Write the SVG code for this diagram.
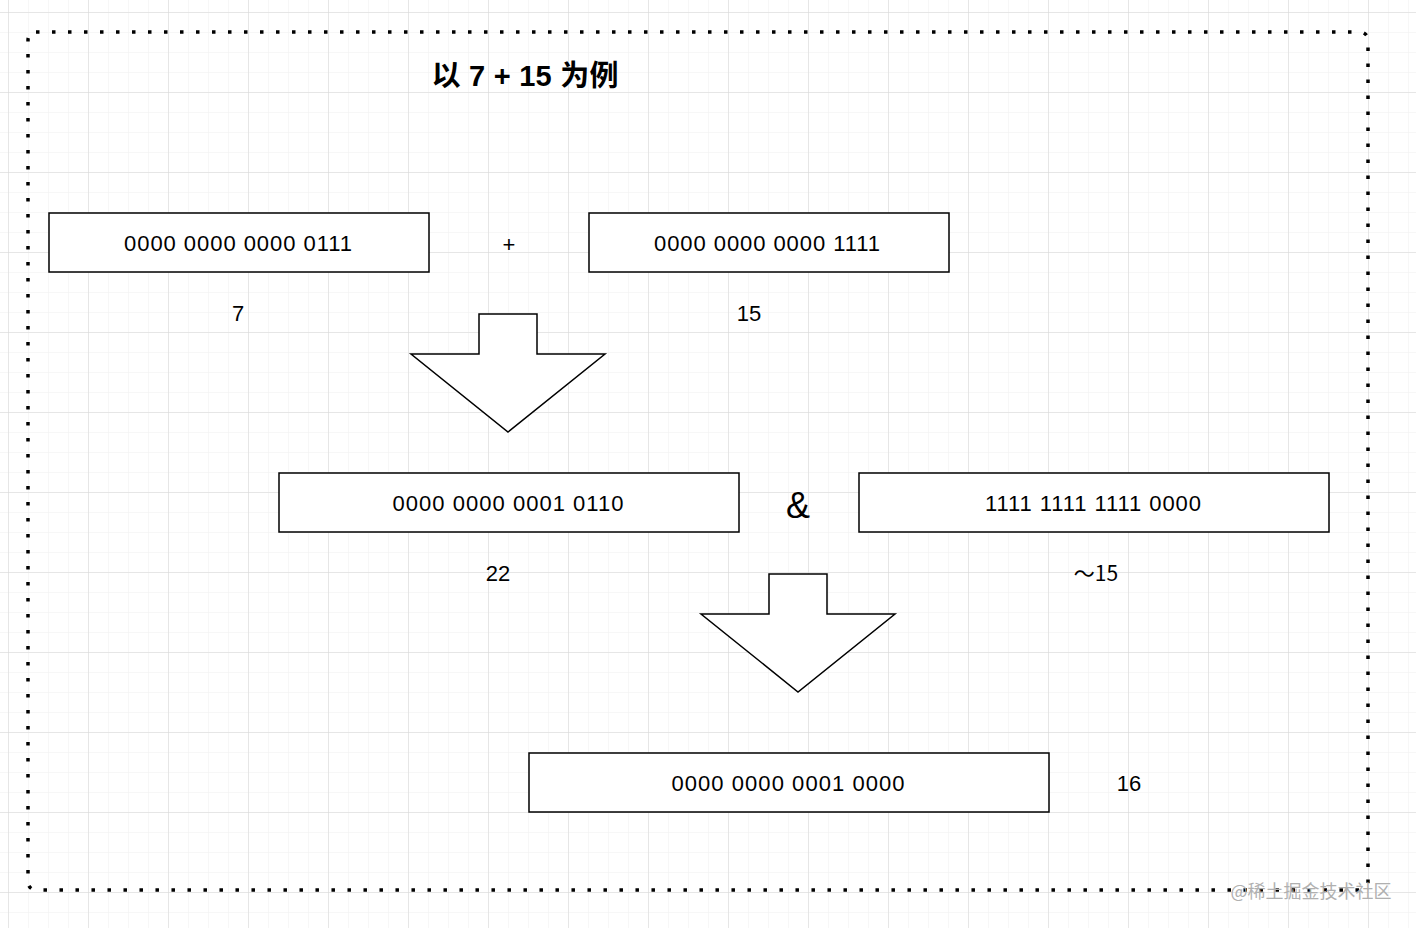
<svg xmlns="http://www.w3.org/2000/svg" width="1416" height="928" viewBox="0 0 1416 928">
<defs>
<pattern id="minor" width="20" height="20" patternUnits="userSpaceOnUse" x="8" y="12"><path d="M0 0H20M0 0V20" stroke="#f0f0f0" stroke-width="1" fill="none"/></pattern>
<pattern id="major" width="80" height="80" patternUnits="userSpaceOnUse" x="8" y="12"><path d="M0 0H80M0 0V80" stroke="#d6d6d6" stroke-width="1" fill="none"/></pattern>
</defs>
<style>
.box{fill:#fff;stroke:#000;stroke-width:1.5}
.t{font-family:"Liberation Sans",Arial,sans-serif;font-size:22px;fill:#000;text-anchor:middle}
.arr{fill:#fff;stroke:#000;stroke-width:1.5}
</style>
<rect width="1416" height="928" fill="#fff"/>
<rect width="1416" height="928" fill="url(#minor)"/>
<rect width="1416" height="928" fill="url(#major)"/>
<rect x="28" y="32" width="1340" height="858" rx="8" fill="none" stroke="#000" stroke-width="3.5" stroke-dasharray="3.5 12.5"/>
<text x="525" y="86" font-family="'Liberation Sans','Noto Sans CJK SC',sans-serif" font-size="29" font-weight="bold" text-anchor="middle" textLength="187">以 7 + 15 为例</text>
<g id="n1"><rect class="box" x="49" y="213" width="380" height="59"/><text class="t" x="238" y="251" textLength="228">0000 0000 0000 0111</text></g>
<g id="n2"><rect class="box" x="589" y="213" width="360" height="59"/><text class="t" x="767" y="251" textLength="226">0000 0000 0000 1111</text></g>
<g id="n3"><rect class="box" x="279" y="473" width="460" height="59"/><text class="t" x="508" y="511" textLength="231">0000 0000 0001 0110</text></g>
<g id="n4"><rect class="box" x="859" y="473" width="470" height="59"/><text class="t" x="1093" y="511" textLength="216">1111 1111 1111 0000</text></g>
<g id="n5"><rect class="box" x="529" y="753" width="520" height="59"/><text class="t" x="788" y="791" textLength="233">0000 0000 0001 0000</text></g>
<g id="labels">
<text class="t" x="509" y="252">+</text>
<text class="t" x="238" y="321">7</text>
<text class="t" x="749" y="321">15</text>
<text class="t" x="798" y="518" style="font-size:36px">&amp;</text>
<text class="t" x="498" y="581">22</text>
<text class="t" x="1096" y="581" style="font-family:'Noto Sans CJK SC','Liberation Sans',sans-serif;font-size:21px">～15</text>
<text class="t" x="1129" y="791">16</text>
</g>
<g id="connectors">
<path class="arr" d="M479 314H537V354H605L508 432L411 354H479Z"/>
<path class="arr" d="M769 574H827V614H895L798 692L701 614H769Z"/>
</g>
<text x="1311" y="898" font-family="'Noto Sans CJK SC',sans-serif" font-size="18" fill="#b0b0b0" text-anchor="middle">@稀土掘金技术社区</text>
</svg>
